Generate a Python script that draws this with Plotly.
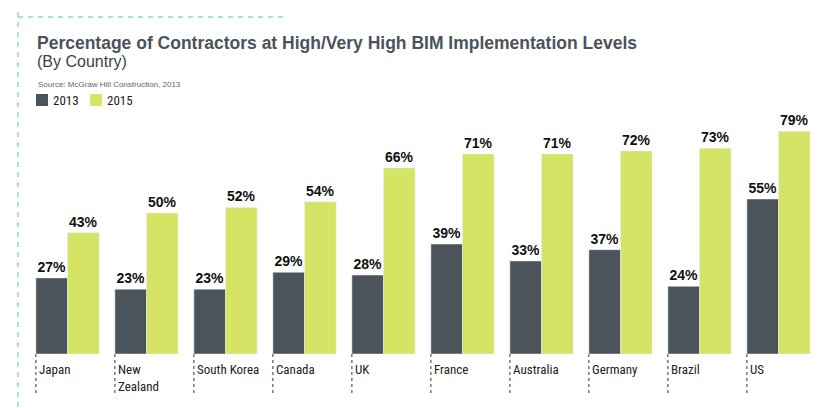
import plotly.graph_objects as go

countries = ["Japan", "New<br>Zealand", "South Korea", "Canada", "UK", "France",
             "Australia", "Germany", "Brazil", "US"]
v2013 = [27, 23, 23, 29, 28, 39, 33, 37, 24, 55]
v2015 = [43, 50, 52, 54, 66, 71, 71, 72, 73, 79]
series_names = ["2013", "2015"]

DARK = "#4b535b"
GREEN = "#d6e466"
TEAL = "#5bbfc0"

OFF = 8  # page body margin
W, H = 816, 400
L, R, T, B = 20, 6, 98, 54
PW, PH = W - L - R, H - T - B

def px(x):  # reference pixel -> paper
    return (x - OFF - L) / PW

def py(y):
    return (H - B - (y - OFF)) / PH

xs = list(range(len(countries)))
fig = go.Figure()
label_font = dict(family="Liberation Sans, Arial, sans-serif", size=14, color="#111111")
fig.add_trace(go.Bar(x=xs, y=v2013, name=series_names[0], marker_color=DARK,
                     texttemplate="<b>%{y}%</b>", textposition="outside",
                     textfont=label_font, cliponaxis=False, showlegend=False))
fig.add_trace(go.Bar(x=xs, y=v2015, name=series_names[1], marker_color=GREEN,
                     texttemplate="<b>%{y}%</b>", textposition="outside",
                     textfont=label_font, cliponaxis=False, showlegend=False))

shapes = []
annotations = []
cond = "Liberation Sans Narrow, Arial Narrow, Roboto Condensed, sans-serif"
for i, c in enumerate(countries):
    shapes.append(dict(type="line", xref="x", yref="paper", x0=i - 0.4, x1=i - 0.4,
                       y0=0, y1=py(395), line=dict(color="#333333", width=1, dash="3px,3px")))
    annotations.append(dict(xref="x", yref="paper", x=i - 0.4, y=py(360), text=c,
                            xanchor="left", yanchor="top", showarrow=False, xshift=1,
                            align="left",
                            font=dict(family=cond, size=13, color="#222222")))

# teal frame
shapes.append(dict(type="line", xref="paper", yref="paper", x0=px(18), x1=px(18),
                   y0=py(12), y1=py(410), line=dict(color=TEAL, width=1, dash="5px,5px")))
shapes.append(dict(type="line", xref="paper", yref="paper", x0=px(18), x1=px(287),
                   y0=py(17), y1=py(17), line=dict(color=TEAL, width=1, dash="5px,5px")))

# legend
for j, (name, col, x0) in enumerate([(series_names[0], DARK, 36), (series_names[1], GREEN, 90)]):
    shapes.append(dict(type="rect", xref="paper", yref="paper", x0=px(x0), x1=px(x0 + 12),
                       y0=py(106), y1=py(94), fillcolor=col, line=dict(width=0)))
    annotations.append(dict(xref="paper", yref="paper", x=px(x0 + 15), y=py(100), text=name,
                            xanchor="left", yanchor="middle", showarrow=False,
                            font=dict(family=cond, size=13, color="#222222")))

annotations.append(dict(xref="paper", yref="paper", x=px(35), y=py(43),
                        text="<b>Percentage of Contractors at High/Very High BIM Implementation Levels</b>",
                        xanchor="left", yanchor="middle", showarrow=False,
                        font=dict(family="Liberation Sans, Arial, sans-serif", size=17.5, color="#4a535c")))
annotations.append(dict(xref="paper", yref="paper", x=px(35), y=py(62), text="(By Country)",
                        xanchor="left", yanchor="middle", showarrow=False,
                        font=dict(family="Liberation Sans, Arial, sans-serif", size=16, color="#3a4148")))
annotations.append(dict(xref="paper", yref="paper", x=px(36), y=py(84),
                        text="Source: McGraw Hill Construction, 2013",
                        xanchor="left", yanchor="middle", showarrow=False,
                        font=dict(family="Liberation Sans, Arial, sans-serif", size=8, color="#666666")))

fig.update_layout(
    width=W, height=H, margin=dict(l=L, r=R, t=T, b=B),
    paper_bgcolor="white", plot_bgcolor="white",
    barmode="group", bargap=0.2, bargroupgap=0,
    xaxis=dict(range=[-0.5, len(countries) - 0.5], showticklabels=False, showgrid=False,
               zeroline=False, showline=False, ticks=""),
    yaxis=dict(range=[0, 88], visible=False, showgrid=False, zeroline=False),
    shapes=shapes, annotations=annotations, showlegend=False,
)

fig.write_html("out.html")
